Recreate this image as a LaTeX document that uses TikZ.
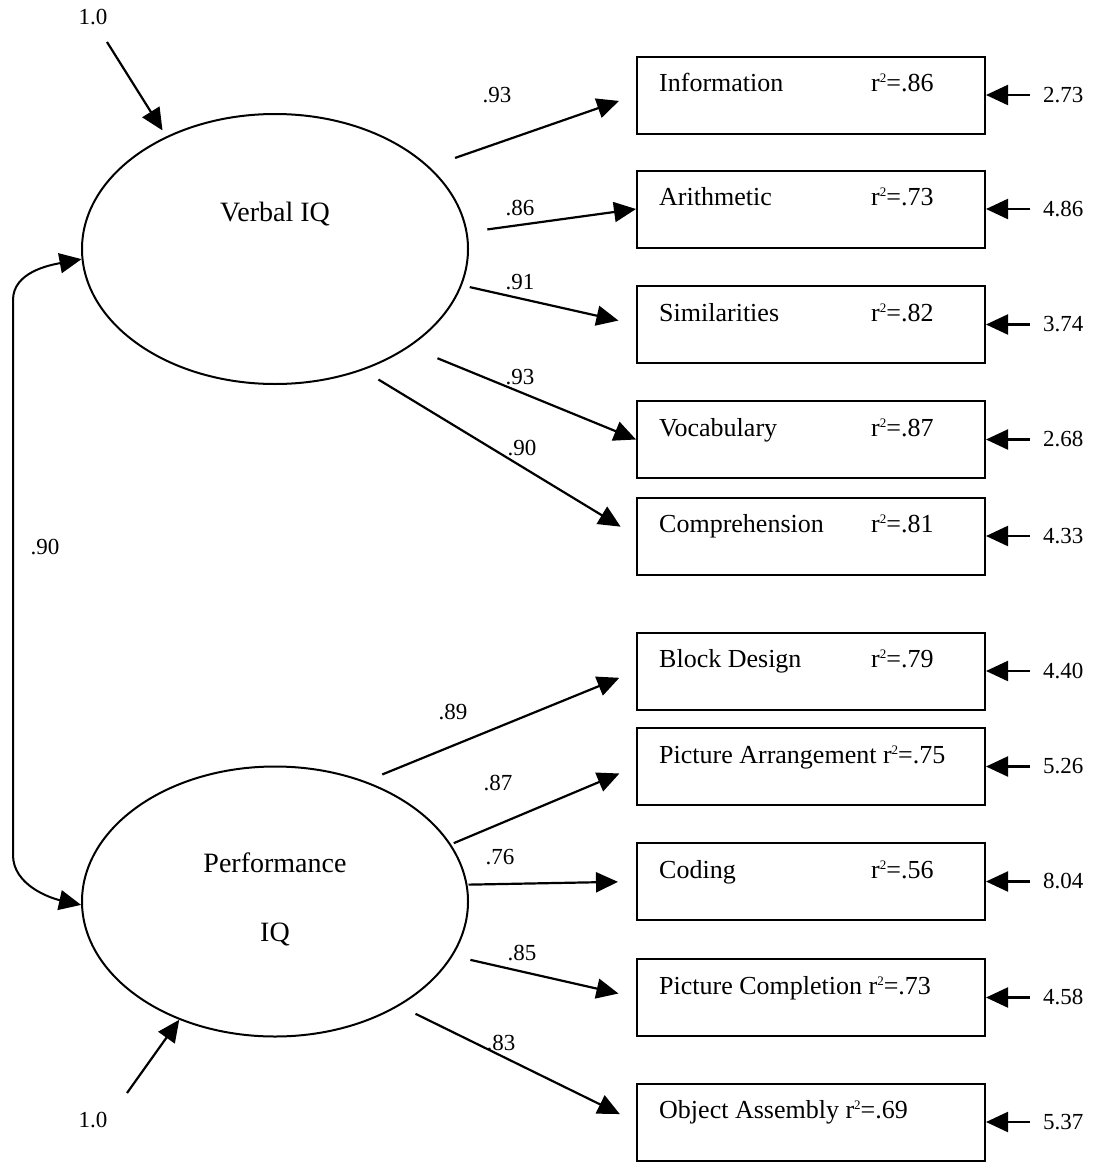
\documentclass[tikz,border=0pt]{standalone}
\usepackage{fontspec}
\setmainfont{Liberation Serif}
\usetikzlibrary{arrows.meta,shapes.geometric,calc}

% r-squared annotation inside an indicator box (small raised 2)
\newcommand\rsqval[1]{r\raisebox{9pt}{\fontsize{13}{13}\selectfont 2}=#1}

\tikzset{
  latent/.style={draw, ellipse, line width=2pt, minimum width=386pt,
                 minimum height=270pt, inner sep=0pt},
  indicator/.style={draw, rectangle, line width=2pt, minimum width=348pt,
                    minimum height=77pt, inner sep=0pt},
  tipshape/.tip={Triangle[length=22pt,width=20pt]},
  pathcoef/.style={line width=2.2pt, -tipshape},
  corrarc/.style={line width=2pt, tipshape-tipshape},
  lvtxt/.style={anchor=base, inner sep=0pt, font=\fontsize{28}{32}\selectfont},
  boxtxt/.style={anchor=base west, inner sep=0pt, font=\fontsize{26}{30}\selectfont},
  numlab/.style={inner sep=0pt, font=\fontsize{23}{27}\selectfont},
  errtxt/.style={anchor=west, inner sep=0pt, font=\fontsize{23}{27}\selectfont}
}

\begin{document}
\begin{tikzpicture}[x=1pt,y=-1pt]
\useasboundingbox (0,0) rectangle (1104,1170);

% latent factors
\node[latent] (V) at (275,249) {};
\node[latent] (P) at (275,901.5) {};
\node[lvtxt] (tV) at (275,221) {Verbal IQ};
\node[lvtxt] (tP1) at (275,872) {Performance};
\node[lvtxt] (tP2) at (275,941) {IQ};

% subtests
\node[indicator] (Info) at (811,95) {};
\node[indicator] (Arit) at (811,209) {};
\node[indicator] (Simi) at (811,324.5) {};
\node[indicator] (Voca) at (811,439.5) {};
\node[indicator] (Comp) at (811,536) {};
\node[indicator] (Bloc) at (811,671) {};
\node[indicator] (PicA) at (811,766.5) {};
\node[indicator] (Codi) at (811,881.5) {};
\node[indicator] (PicC) at (811,997.5) {};
\node[indicator] (Obje) at (811,1122) {};

\node[boxtxt] (tInfo) at ($(Info.north west)+(23,36)$) {\makebox[212pt][l]{Information}\rsqval{.86}};
\node[boxtxt] (tArit) at ($(Arit.north west)+(23,36)$) {\makebox[212pt][l]{Arithmetic}\rsqval{.73}};
\node[boxtxt] (tSimi) at ($(Simi.north west)+(23,36)$) {\makebox[212pt][l]{Similarities}\rsqval{.82}};
\node[boxtxt] (tVoca) at ($(Voca.north west)+(23,36)$) {\makebox[212pt][l]{Vocabulary}\rsqval{.87}};
\node[boxtxt] (tComp) at ($(Comp.north west)+(23,36)$) {\makebox[212pt][l]{Comprehension}\rsqval{.81}};
\node[boxtxt] (tBloc) at ($(Bloc.north west)+(23,36)$) {\makebox[212pt][l]{Block Design}\rsqval{.79}};
\node[boxtxt] (tPicA) at ($(PicA.north west)+(23,36)$) {Picture Arrangement \rsqval{.75}};
\node[boxtxt] (tCodi) at ($(Codi.north west)+(23,36)$) {\makebox[212pt][l]{Coding}\rsqval{.56}};
\node[boxtxt] (tPicC) at ($(PicC.north west)+(23,36)$) {Picture Completion \rsqval{.73}};
\node[boxtxt] (tObje) at ($(Obje.north west)+(23,36)$) {Object Assembly \rsqval{.69}};

% error variances
\node[errtxt] (eInfo) at (1043,95) {2.73};
\node[errtxt] (eArit) at (1043,209) {4.86};
\node[errtxt] (eSimi) at (1043,324.5) {3.74};
\node[errtxt] (eVoca) at (1043,439.5) {2.68};
\node[errtxt] (eComp) at (1043,536) {4.33};
\node[errtxt] (eBloc) at (1043,671) {4.40};
\node[errtxt] (ePicA) at (1043,766.5) {5.26};
\node[errtxt] (eCodi) at (1043,881.5) {8.04};
\node[errtxt] (ePicC) at (1043,997.5) {4.58};
\node[errtxt] (eObje) at (1043,1122) {5.37};
\foreach \b in {Info,Arit,Simi,Voca,Comp,Bloc,PicA,Codi,PicC,Obje}
  \draw[pathcoef, shorten <=13pt] (e\b.west) -- (\b.east);

% loadings on Verbal IQ
\draw[pathcoef, shorten <=27pt, shorten >=18pt] (V.28.6) -- (Info.west);
\draw[pathcoef, shorten <=20pt] (V.5.1) -- (Arit.west);
\draw[pathcoef, shorten <=8pt, shorten >=18pt] (V.-11.4) -- (Simi.west);
\draw[pathcoef, shorten <=30pt] (V.-36.6) -- (Voca.west);
\draw[pathcoef, shorten <=18pt, shorten >=18pt] (V.-54) -- (Comp.west);
\node[numlab] (lInfo) at (497,95) {.93};
\node[numlab] (lArit) at (520,208) {.86};
\node[numlab] (lSimi) at (520,282) {.91};
\node[numlab] (lVoca) at (520,377) {.93};
\node[numlab] (lComp) at (522,448) {.90};

% loadings on Performance IQ
\draw[pathcoef, shorten <=18pt, shorten >=18pt] (P.53.6) -- (Bloc.west);
\draw[pathcoef, shorten <=3pt, shorten >=18pt] (P.18.3) -- (PicA.west);
\draw[pathcoef, shorten <=1pt, shorten >=18pt] (P.5.8) -- (Codi.west);
\draw[pathcoef, shorten <=18pt, shorten >=18pt] (P.-17.05) -- (PicC.west);
\draw[pathcoef, shorten <=18pt, shorten >=18pt] (P.-40.1) -- (Obje.west);
\node[numlab] (lBloc) at (453,712) {.89};
\node[numlab] (lPicA) at (498,783) {.87};
\node[numlab] (lCodi) at (500,857) {.76};
\node[numlab] (lPicC) at (522,953) {.85};
\node[numlab] (lObje) at (501,1043) {.83};

% factor disturbances
\coordinate (dV) at (107,42);
\coordinate (dP) at (127,1093);
\draw[pathcoef, shorten >=7pt] (dV) -- (V.134);
\draw[pathcoef] (dP) -- (P.231.7);
\node[numlab] (lV) at (93,17) {1.0};
\node[numlab] (lP) at (93,1120) {1.0};

% factor correlation
\coordinate (ct) at (13,300);
\coordinate (cb) at (13,855);
\draw[corrarc] (V.183) .. controls (50,265) and (13,272) .. (ct) -- (cb)
  .. controls (13,885) and (50,898) .. (P.181);
\node[numlab] (lVP) at (45,547) {.90};
\end{tikzpicture}
\end{document}
